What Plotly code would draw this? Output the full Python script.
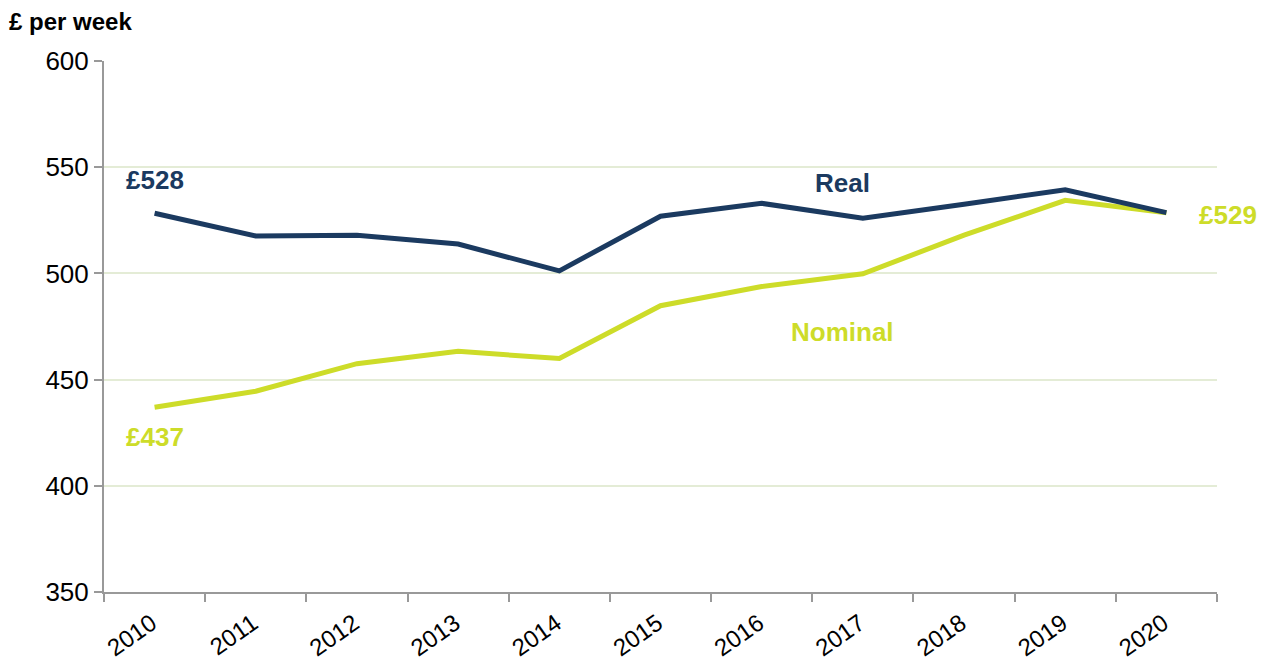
import plotly.graph_objects as go

years = ["2010", "2011", "2012", "2013", "2014", "2015", "2016", "2017", "2018", "2019", "2020"]
real = [528.3, 517.6, 518.0, 513.8, 501.2, 526.9, 533.0, 526.0, 532.6, 539.4, 528.6]
nominal = [437.0, 444.5, 457.5, 463.3, 459.9, 484.8, 493.8, 499.8, 518.0, 534.4, 528.6]

NAVY = "#1B3A60"
LIME = "#CDDC29"
FONT = "Liberation Sans, Arial, sans-serif"

W, H = 1268, 663
ML, MR, MT, MB = 96, 59, 53, 79
PW, PH = W - ML - MR, H - MT - MB

fig = go.Figure()
fig.add_trace(go.Scatter(x=years, y=nominal, mode="lines", line=dict(color=LIME, width=5),
                         name="Nominal", hoverinfo="skip"))
fig.add_trace(go.Scatter(x=years, y=real, mode="lines", line=dict(color=NAVY, width=5),
                         name="Real", hoverinfo="skip"))

def ann(x, y, text, color, xanchor="center"):
    fig.add_annotation(x=x, y=y, xref="x", yref="y", text=f"<b>{text}</b>", showarrow=False,
                       font=dict(family=FONT, size=26, color=color), xanchor=xanchor, yanchor="middle")

ann(0, 544.0, "£528", NAVY)
ann(6.8, 542.4, "Real", NAVY)
ann(6.8, 472.4, "Nominal", LIME)
ann(0, 423.0, "£437", LIME)
ann(10.3, 527.7, "£529", LIME, xanchor="left")

fig.add_annotation(x=(0 - ML) / PW, y=1 + (MT - 13) / PH, xref="paper", yref="paper",
                   text="<b>£ per week</b>", showarrow=False, borderpad=0,
                   font=dict(family=FONT, size=24, color="#000000"), xanchor="left", yanchor="middle")

fig.update_layout(
    width=W, height=H,
    margin=dict(l=ML, r=MR, t=MT, b=MB, autoexpand=False),
    paper_bgcolor="white", plot_bgcolor="white",
    showlegend=False,
    font=dict(family=FONT, size=26, color="#000000"),
    xaxis=dict(type="category", range=[-0.5, 10.5], tickson="boundaries",
               showline=True, linecolor="#999999", linewidth=2,
               ticks="outside", ticklen=8, tickcolor="#999999", tickwidth=2,
               showgrid=False, tickangle=-35, tickfont=dict(size=24, family=FONT),
               ticklabelshift=-3, ticklabelstandoff=6, automargin=False,
               zeroline=False),
    yaxis=dict(range=[350, 600], tickvals=[350, 400, 450, 500, 550, 600],
               showline=True, linecolor="#999999", linewidth=2,
               ticks="outside", ticklen=8, tickcolor="#999999", tickwidth=2,
               showgrid=True, gridcolor="#E4ECD6", gridwidth=2, automargin=False,
               tickfont=dict(size=26, family=FONT), zeroline=False),
)

fig.write_html("out.html")
